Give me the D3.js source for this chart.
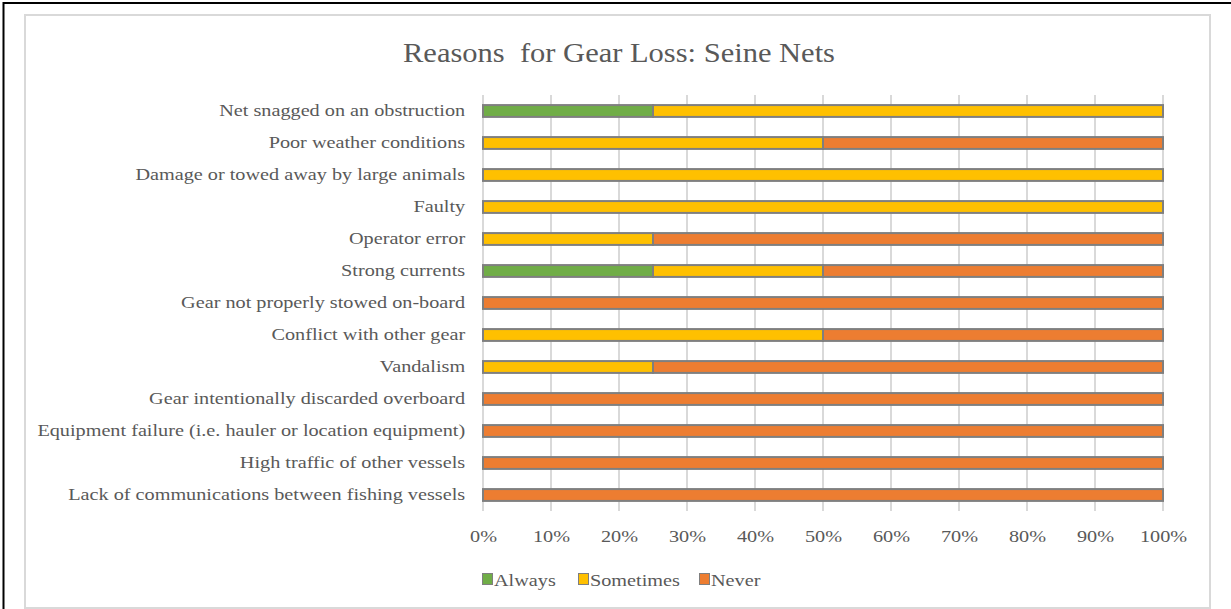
<!DOCTYPE html>
<html>
<head>
<meta charset="utf-8">
<script src="https://cdn.jsdelivr.net/npm/d3@7"></script>
<style>
  html, body { margin: 0; padding: 0; background: #fff; }
  svg { display: block; }
  text { font-family: "Liberation Serif", "Times New Roman", serif; fill: #595959; }
</style>
</head>
<body>
<svg id="chart" width="1231" height="609"></svg>
<script>
// Reasons for gear loss, seine nets: share of respondents per answer
const categories = [
  "Net snagged on an obstruction",
  "Poor weather conditions",
  "Damage or towed away by large animals",
  "Faulty",
  "Operator error",
  "Strong currents",
  "Gear not properly stowed on-board",
  "Conflict with other gear",
  "Vandalism",
  "Gear intentionally discarded overboard",
  "Equipment failure (i.e. hauler or location equipment)",
  "High traffic of other vessels",
  "Lack of communications between fishing vessels"
];
const seriesNames = ["Always", "Sometimes", "Never"];
const always    = [0.25, 0,    0,   0,   0,    0.25, 0, 0,    0,    0, 0, 0, 0];
const sometimes = [0.75, 0.5,  1,   1,   0.25, 0.25, 0, 0.5,  0.25, 0, 0, 0, 0];
const never     = [0,    0.5,  0,   0,   0.75, 0.5,  1, 0.5,  0.75, 1, 1, 1, 1];
const tickValues = [0, 0.1, 0.2, 0.3, 0.4, 0.5, 0.6, 0.7, 0.8, 0.9, 1];
const colors = ["#70ad47", "#ffc000", "#ed7d31"];

// the serif text is set a little wide
const stretch = 1.19;

const svg = d3.select("#chart");

// frame
svg.append("rect").attr("x", 3.5).attr("y", 3).attr("width", 1240).attr("height", 620)
  .attr("fill", "none").attr("stroke", "#000").attr("stroke-width", 2);
svg.append("rect").attr("x", 25).attr("y", 15).attr("width", 1185).attr("height", 593)
  .attr("fill", "#fff").attr("stroke", "#d9d9d9").attr("stroke-width", 2);

const plot = { left: 483, right: 1163, top: 95, bottom: 511 };

const x = d3.scaleLinear().domain([0, 1]).range([plot.left, plot.right]);
const y = d3.scaleBand().domain(categories).range([plot.top, plot.bottom])
  .paddingInner(0.63).paddingOuter(0.315);

// title
svg.append("text")
  .attr("transform", "translate(619, 62) scale(1.09, 1)")
  .attr("text-anchor", "middle")
  .style("font-size", "28px")
  .style("white-space", "pre")
  .text("Reasons  for Gear Loss: Seine Nets");

// vertical gridlines
svg.append("g").selectAll("line").data(tickValues).join("line")
  .attr("x1", d => x(d)).attr("x2", d => x(d))
  .attr("y1", plot.top).attr("y2", plot.bottom)
  .attr("stroke", "#d9d9d9").attr("stroke-width", 2);

// x axis labels
const xAxis = d3.axisBottom(x).tickValues(tickValues).tickFormat(d3.format(".0%")).tickSize(0).tickPadding(0);
const gx = svg.append("g").attr("transform", `translate(0, ${plot.bottom + 19})`).call(xAxis);
gx.select(".domain").remove();
gx.selectAll("text").style("font-size", "17px").attr("fill", "#595959")
  .attr("transform", `scale(${stretch}, 1)`)
  .style("font-family", "'Liberation Serif', 'Times New Roman', serif");

// y axis labels
const yAxis = d3.axisLeft(y).tickSize(0).tickPadding(15);
const gy = svg.append("g").attr("transform", `translate(${plot.left}, 0)`).call(yAxis);
gy.select(".domain").remove();
gy.selectAll("text").style("font-size", "17px").attr("fill", "#595959")
  .attr("transform", `scale(${stretch}, 1)`)
  .style("font-family", "'Liberation Serif', 'Times New Roman', serif");

// stacked bars
const rows = categories.map((c, i) => ({ category: c, Always: always[i], Sometimes: sometimes[i], Never: never[i] }));
const stack = d3.stack().keys(seriesNames)(rows);

svg.append("g").selectAll("g").data(stack).join("g")
  .attr("fill", (d, i) => colors[i])
  .selectAll("rect").data(d => d.filter(p => p[1] - p[0] > 0)).join("rect")
  .attr("x", d => x(d[0]))
  .attr("y", d => y(d.data.category))
  .attr("width", d => x(d[1]) - x(d[0]))
  .attr("height", y.bandwidth())
  .attr("stroke", "#7f7f7f")
  .attr("stroke-width", 2);

// legend
const legendX = [482, 578, 699];
const lg = svg.append("g").selectAll("g").data(seriesNames).join("g")
  .attr("transform", (d, i) => `translate(${legendX[i]}, 578)`);
lg.append("rect").attr("x", 0.5).attr("y", -4.5).attr("width", 10).attr("height", 11)
  .attr("fill", (d, i) => colors[i]).attr("stroke", "#7f7f7f").attr("stroke-width", 1);
lg.append("text").attr("transform", `translate(12, 8) scale(${stretch}, 1)`)
  .style("font-size", "17px").text(d => d);
</script>
</body>
</html>
